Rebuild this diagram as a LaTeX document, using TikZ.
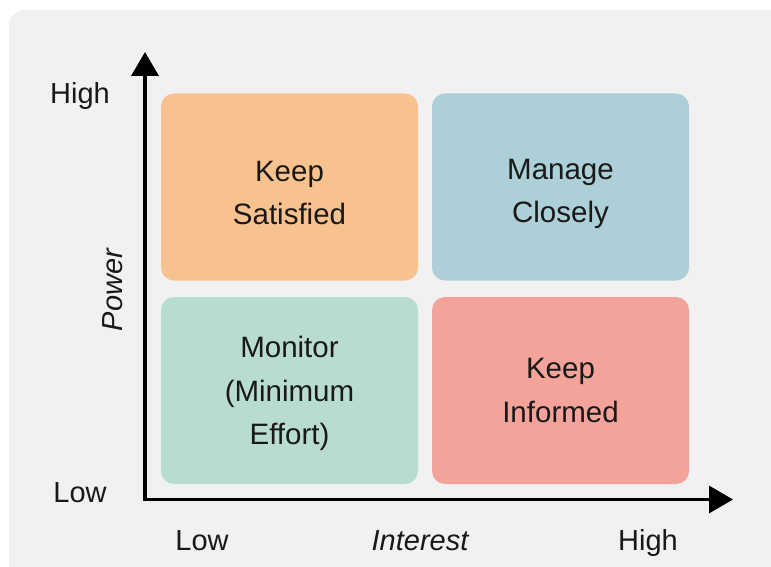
\documentclass[tikz,border=0pt]{standalone}
\usepackage{fontspec}
\setmainfont{Liberation Sans}
\usetikzlibrary{arrows.meta}
\definecolor{bgc}{HTML}{F1F1F1}
\definecolor{orangec}{HTML}{F8C28E}
\definecolor{bluec}{HTML}{ADCFD8}
\definecolor{mintc}{HTML}{B8DCD2}
\definecolor{salmonc}{HTML}{F3A39A}
\tikzset{
  quad/.style={rounded corners=13pt, minimum width=257pt, minimum height=187pt,
    inner sep=0pt},
  quadtext/.style={align=center, inner sep=0pt, font=\fontsize{29.5}{43.5}\selectfont, text=black!90},
  axlabel/.style={font=\fontsize{29}{34}\selectfont, text=black!90, inner sep=0pt, anchor=base},
  axis/.style={line width=3.5pt, -{Triangle[length=24pt,width=27pt]}},
}
\begin{document}
\begin{tikzpicture}[x=1pt,y=-1pt]
\useasboundingbox (0,0) rectangle (771,567);
\fill[bgc, rounded corners=15pt] (9,10) -- (771,10) -- (771,567) -- (9,567) -- cycle;
\fill[bgc] (771,10) rectangle (700,567);
\fill[bgc] (9,567) rectangle (771,500);
% quadrants
\node[quad, fill=orangec] (ks) at (289.5,187) {};
\node[quad, fill=bluec] (mc) at (560.5,187) {};
\node[quad, fill=mintc] (mo) at (289.5,390.5) {};
\node[quad, fill=salmonc] (ki) at (560.5,390.5) {};
\node[quadtext] (kst) at ([yshift=-6pt]ks.center) {Keep\\Satisfied};
\node[quadtext] (mct) at ([yshift=-7pt]mc.center) {Manage\\Closely};
\node[quadtext] (mot) at ([yshift=-3pt]mo.center) {Monitor\\(Minimum\\Effort)};
\node[quadtext] (kit) at ([yshift=0pt]ki.center) {Keep\\Informed};
% axes
\coordinate (o) at (145,499.5);
\coordinate (ytip) at (145,52);
\coordinate (xtip) at (733,499.5);
\draw[axis] ([yshift=-1.75pt]o) -- (ytip);
\draw[axis] ([xshift=-1.75pt]o) -- (xtip);
% labels
\node[axlabel] (yhigh) at (80,104) {High};
\node[axlabel] (ylow) at (80,502) {Low};
\node[axlabel, font=\fontsize{29}{34}\itshape, anchor=center] (power) at (113,290) [rotate=90] {Power};
\node[axlabel] (xlow) at (202,550) {Low};
\node[axlabel, font=\fontsize{29}{34}\itshape] (interest) at (420,550) {Interest};
\node[axlabel] (xhigh) at (648,550) {High};
\end{tikzpicture}
\end{document}
